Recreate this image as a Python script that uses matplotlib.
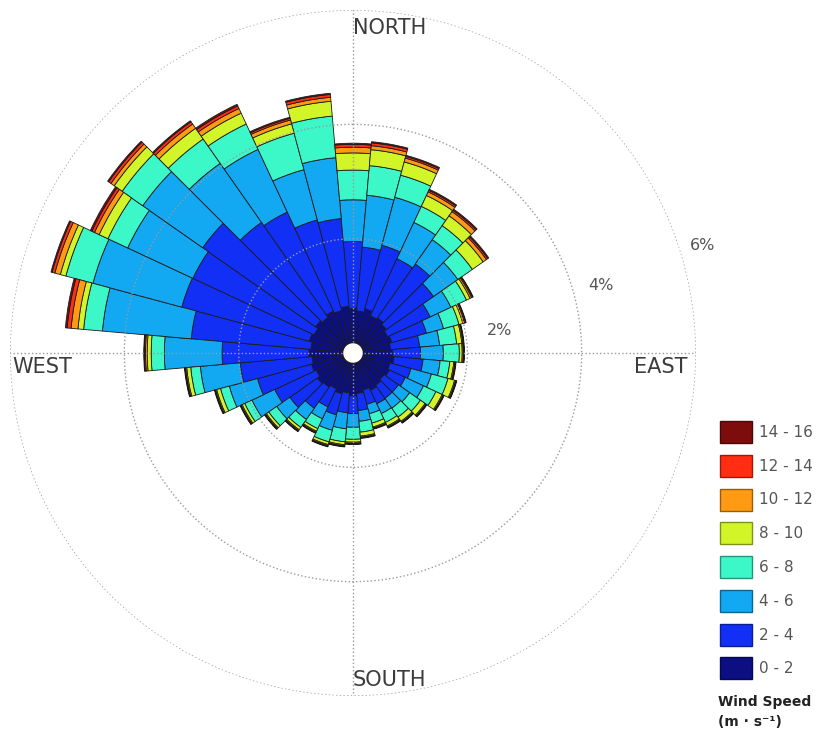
import numpy as np
import matplotlib.pyplot as plt
from matplotlib.patches import Patch

# direction bins (deg, clockwise from north), 10 deg wide
directions = np.arange(0, 360, 10)

speed_labels = ['0 - 2', '2 - 4', '4 - 6', '6 - 8', '8 - 10', '10 - 12', '12 - 14', '14 - 16']

# frequency (%) per direction for each speed class
freq_0_2 = [0.61, 0.57, 0.63, 0.55, 0.58, 0.54, 0.50, 0.53, 0.49, 0.52, 0.55, 0.50,
            0.53, 0.49, 0.52, 0.55, 0.50, 0.54, 0.58, 0.53, 0.57, 0.52, 0.56, 0.59,
            0.54, 0.58, 0.55, 0.60, 0.57, 0.62, 0.58, 0.63, 0.59, 0.64, 0.60, 0.65]
freq_2_4 = [1.17, 1.12, 1.15, 1.10, 1.15, 1.01, 0.82, 0.63, 0.51, 0.49, 0.51, 0.38,
            0.31, 0.31, 0.28, 0.26, 0.26, 0.30, 0.31, 0.35, 0.38, 0.35, 0.45, 0.59,
            0.80, 0.98, 1.26, 1.52, 2.10, 2.31, 2.34, 2.41, 2.03, 1.91, 1.64, 1.54]
freq_4_6 = [0.73, 0.91, 0.87, 0.70, 0.52, 0.52, 0.40, 0.31, 0.35, 0.40, 0.30, 0.37,
            0.35, 0.24, 0.21, 0.19, 0.17, 0.19, 0.24, 0.28, 0.28, 0.23, 0.24, 0.28,
            0.44, 0.51, 0.70, 1.01, 1.56, 1.61, 1.26, 1.28, 1.26, 1.21, 0.91, 1.07]
freq_6_8 = [0.52, 0.52, 0.40, 0.31, 0.30, 0.31, 0.30, 0.28, 0.30, 0.28, 0.17, 0.30,
            0.24, 0.23, 0.19, 0.17, 0.17, 0.19, 0.21, 0.23, 0.21, 0.19, 0.17, 0.17,
            0.14, 0.16, 0.17, 0.23, 0.33, 0.49, 0.38, 0.44, 0.52, 0.49, 0.66, 0.73]
freq_8_10 = [0.30, 0.28, 0.24, 0.21, 0.21, 0.23, 0.07, 0.07, 0.09, 0.05, 0.07, 0.12,
             0.12, 0.10, 0.09, 0.07, 0.07, 0.07, 0.05, 0.05, 0.05, 0.05, 0.05, 0.05,
             0.05, 0.07, 0.07, 0.07, 0.10, 0.10, 0.17, 0.17, 0.23, 0.21, 0.17, 0.26]
freq_10_12 = [0.10, 0.07, 0.07, 0.07, 0.09, 0.07, 0.03, 0.03, 0.02, 0.02, 0.02, 0.02,
              0.02, 0.02, 0.02, 0.02, 0.02, 0.02, 0.02, 0.02, 0.02, 0.02, 0.02, 0.02,
              0.02, 0.02, 0.02, 0.03, 0.12, 0.10, 0.09, 0.07, 0.09, 0.09, 0.07, 0.07]
freq_12_14 = [0.05, 0.05, 0.03, 0.03, 0.03, 0.03, 0.02, 0.02, 0.01, 0.01, 0.01, 0.01,
              0.01, 0.01, 0.01, 0.01, 0.01, 0.01, 0.01, 0.01, 0.01, 0.01, 0.01, 0.01,
              0.01, 0.01, 0.01, 0.02, 0.07, 0.05, 0.05, 0.05, 0.05, 0.05, 0.03, 0.05]
freq_14_16 = [0.02, 0.02, 0.02, 0.02, 0.02, 0.02, 0.01, 0.01, 0.01, 0.01, 0.01, 0.01,
              0.01, 0.01, 0.01, 0.01, 0.01, 0.01, 0.01, 0.01, 0.01, 0.01, 0.01, 0.01,
              0.01, 0.01, 0.01, 0.01, 0.03, 0.02, 0.03, 0.02, 0.02, 0.03, 0.02, 0.02]

freqs = [freq_0_2, freq_2_4, freq_4_6, freq_6_8, freq_8_10, freq_10_12, freq_12_14, freq_14_16]

r_ticks = [2, 4, 6]
r_tick_labels = ['2%', '4%', '6%']

# jet-like palette as it looks in the picture
colors = ['#0b0f82', '#1230f5', '#12a8f2', '#3cf7c8',
          '#d2f52a', '#ff9a12', '#ff2d12', '#7d0c0c']
hole = 0.17  # empty circle in the middle

fig = plt.figure(figsize=(8.19, 7.33), dpi=100)
ax = fig.add_axes([10 / 819, 37 / 733, 686 / 819, 686 / 733], projection='polar')
ax.set_theta_zero_location('N')
ax.set_theta_direction(-1)

theta = np.radians(directions)
width = np.radians(10)
bottom = np.full(len(directions), hole)
for vals, c in zip(freqs, colors):
    ax.bar(theta, vals, width=width, bottom=bottom, color=c,
           edgecolor='#1a1a1a', linewidth=0.6, zorder=1)
    bottom = bottom + np.array(vals)

# white disk over the centre
ax.bar(0, hole, width=2 * np.pi, bottom=0, color='white', linewidth=0, zorder=3)

ax.set_ylim(0, 6.0)
ax.set_rgrids(r_ticks, labels=['', '', ''])
ax.set_thetagrids([0, 90, 180, 270], labels=['', '', '', ''])
ax.set_axisbelow(False)
ax.grid(True, color='#9a9a9a', linestyle=':', linewidth=1.0)
ax.spines['polar'].set_visible(False)
ax.tick_params(length=0)

# radial labels
label_pos = [(81.1, 2.60), (74.7, 4.50), (72.9, 6.40)]
for (ang, rr), txt in zip(label_pos, r_tick_labels):
    ax.text(np.radians(ang), rr, txt, ha='center', va='center', fontsize=11.5,
            color='#555555', clip_on=False)

# compass labels
tc = '#3c3c3c'
ax.annotate('NORTH', xy=(0, 6), xytext=(0, -18), textcoords='offset pixels',
            ha='left', va='center', fontsize=15, color=tc)
ax.annotate('SOUTH', xy=(np.pi, 6), xytext=(0, 16), textcoords='offset pixels',
            ha='left', va='center', fontsize=15, color=tc)
ax.annotate('WEST', xy=(1.5 * np.pi, 6), xytext=(2, -14), textcoords='offset pixels',
            ha='left', va='center', fontsize=15, color=tc)
ax.annotate('EAST', xy=(0.5 * np.pi, 6), xytext=(-8, -14), textcoords='offset pixels',
            ha='right', va='center', fontsize=15, color=tc)

# legend, highest speed on top
handles = []
for c in colors:
    rgb = np.array(plt.matplotlib.colors.to_rgb(c))
    handles.append(Patch(facecolor=c, edgecolor=tuple(rgb * 0.6)))
leg = fig.legend(handles[::-1], speed_labels[::-1], loc='upper left',
                 bbox_to_anchor=(720 / 819, 1 - 421 / 733), frameon=False,
                 fontsize=11, handlelength=2.1, handleheight=1.84,
                 handletextpad=0.45, labelspacing=0.77, borderpad=0, borderaxespad=0)
for t in leg.get_texts():
    t.set_color('#555555')

fig.text(718 / 819, 1 - 702 / 733, 'Wind Speed', fontsize=10, fontweight='bold',
         va='center', color='#222222')
fig.text(718 / 819, 1 - 722 / 733, '(m · s⁻¹)', fontsize=10, fontweight='bold',
         va='center', color='#222222')

fig.savefig('out.png', dpi=100)
